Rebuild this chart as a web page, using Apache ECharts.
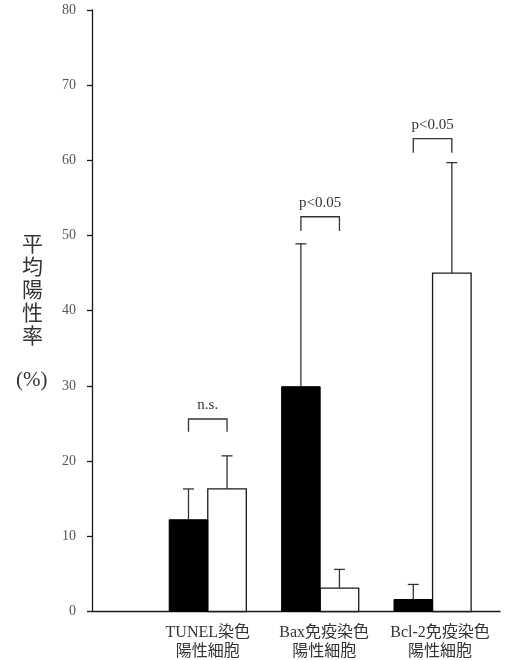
<!DOCTYPE html>
<html><head><meta charset="utf-8">
<script src="https://cdn.jsdelivr.net/npm/echarts@6/dist/echarts.min.js"></script>
<style>html,body{margin:0;padding:0;background:#fff}#c{width:506px;height:660px}</style>
</head><body><div id="c"></div>
<script>
// ---- data ----
const categories = ['TUNEL染色', 'Bax免疫染色', 'Bcl-2免疫染色'];
const subLabel = '陽性細胞';
const yTicks = [0, 10, 20, 30, 40, 50, 60, 70, 80];
const blackMean = [12.2, 29.9, 1.6];
const blackErr  = [16.3, 48.9, 3.6];
const whiteMean = [16.3, 3.1, 45.0];
const whiteErr  = [20.7, 5.6, 59.7];
const sigLabels = ['n.s.', 'p<0.05', 'p<0.05'];
const bracketTop  = [25.6, 52.5, 62.9];
const bracketFoot = [23.9, 50.6, 61.0];

const chart = echarts.init(document.getElementById('c'), null, {renderer: 'canvas'});
const BW = 0.343; // bar width in x units
const INK = '#1a1a1a';

function renderGroup(params, api) {
  const i = params.dataIndex;
  const c = api.value(0);
  const kids = [];
  // white bar
  const w0 = api.coord([c, whiteMean[i]]), w1 = api.coord([c + BW, 0]);
  kids.push({type: 'rect', shape: {x: w0[0], y: w0[1], width: w1[0] - w0[0], height: w1[1] - w0[1]},
    style: {fill: '#fff', stroke: INK, lineWidth: 1.3}});
  // black bar
  const b0 = api.coord([c - BW, blackMean[i]]), b1 = api.coord([c, 0]);
  kids.push({type: 'rect', shape: {x: b0[0], y: b0[1], width: b1[0] - b0[0], height: b1[1] - b0[1]},
    style: {fill: '#000', stroke: '#000', lineWidth: 1}});
  // error bars
  function err(xc, m, e) {
    const p0 = api.coord([xc, m]), p1 = api.coord([xc, e]);
    kids.push({type: 'line', shape: {x1: p0[0], y1: p0[1], x2: p1[0], y2: p1[1]}, style: {stroke: '#333', lineWidth: 1.3}});
    kids.push({type: 'line', shape: {x1: p1[0] - 5.5, y1: p1[1], x2: p1[0] + 5.5, y2: p1[1]}, style: {stroke: '#333', lineWidth: 1.3}});
  }
  err(c - BW / 2, blackMean[i], blackErr[i]);
  err(c + BW / 2, whiteMean[i], whiteErr[i]);
  // bracket
  const q0 = api.coord([c - BW / 2, bracketFoot[i]]), q1 = api.coord([c - BW / 2, bracketTop[i]]);
  const q2 = api.coord([c + BW / 2, bracketTop[i]]), q3 = api.coord([c + BW / 2, bracketFoot[i]]);
  kids.push({type: 'polyline', shape: {points: [q0, q1, q2, q3]}, style: {stroke: '#333', lineWidth: 1.3, fill: null}});
  const tc = api.coord([c, bracketTop[i]]);
  kids.push({type: 'text', x: tc[0], y: tc[1] - 14, style: {text: sigLabels[i], align: 'center', verticalAlign: 'middle',
    font: '15px "Liberation Serif", serif', fill: '#333'}});
  return {type: 'group', children: kids};
}

const labelStyles = {
  t0: {padding: [0, 0, 0, 0]},
  t1: {padding: [0, 0, 0, 8]},
  t2: {padding: [0, 0, 0, 15]}
};
const lblFont = '"Liberation Serif", "Noto Sans CJK JP", serif';
Object.values(labelStyles).forEach(s => { s.fontFamily = lblFont; s.fontSize = 16; s.color = '#333'; s.lineHeight = 19; });

chart.setOption({
  animation: false,
  backgroundColor: '#fff',
  grid: {left: 92, right: 6, top: 10, bottom: 48},
  xAxis: {
    type: 'value', min: -0.03, max: 3.6,
    axisLine: {show: true, onZero: true, lineStyle: {color: INK, width: 1.3}},
    axisTick: {show: false},
    splitLine: {show: false},
    axisLabel: {
      customValues: [1, 2, 3], margin: 12,
      formatter: function (v) {
        const k = Math.round(v) - 1;
        return '{t' + k + '|' + categories[k] + '}\n{t' + k + '|' + subLabel + '}';
      },
      rich: labelStyles
    }
  },
  yAxis: {
    type: 'value', min: yTicks[0], max: yTicks[yTicks.length - 1], interval: 10,
    axisLine: {show: true, onZero: false, lineStyle: {color: INK, width: 1.3}},
    axisTick: {show: true, inside: false, length: 5, lineStyle: {color: INK, width: 1.3}},
    splitLine: {show: false},
    axisLabel: {color: '#555', fontSize: 14, fontFamily: '"Liberation Serif", serif', margin: 16}
  },
  graphic: [
    {type: 'text', left: 22, top: 232, style: {text: '平\n均\n陽\n性\n率', font: '21px "Noto Sans CJK JP"', lineHeight: 23, fill: '#333', align: 'center'}},
    {type: 'text', left: 16, top: 370, style: {text: '(%)', font: '21px "Liberation Serif", serif', fill: '#333'}}
  ],
  series: [{
    type: 'custom',
    renderItem: renderGroup,
    data: [[1], [2], [3]],
    encode: {x: 0},
    clip: false
  }]
});
</script></body></html>
